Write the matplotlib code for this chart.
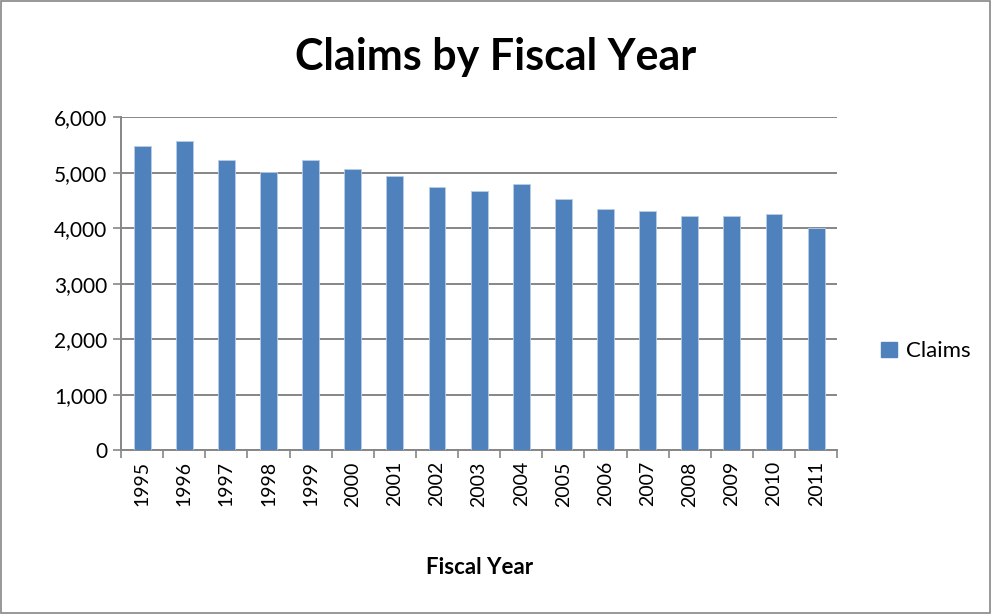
import matplotlib
matplotlib.use("Agg")
import matplotlib.pyplot as plt
import matplotlib.patches as mpatches
import matplotlib.ticker as mticker
import numpy as np

# Data
years = ["1995", "1996", "1997", "1998", "1999", "2000", "2001", "2002", "2003",
         "2004", "2005", "2006", "2007", "2008", "2009", "2010", "2011"]
claims = [5475, 5578, 5235, 5005, 5222, 5072, 4933, 4747, 4662,
          4789, 4518, 4338, 4314, 4224, 4212, 4265, 4012]

plt.rcParams["font.family"] = ["Lato", "DejaVu Sans"]

bar_color = "#4F81BD"
axis_gray = "#868686"

fig = plt.figure(figsize=(9.92, 6.14), dpi=100)
ax = fig.add_axes([0.122, 0.267, 0.722, 0.542])

x = np.arange(len(years))
ax.bar(x, claims, width=0.4, color=bar_color, edgecolor="#B9CDE5",
       linewidth=0.6, label="Claims", zorder=3)

ax.set_xlim(-0.5, len(years) - 0.5)
ax.set_ylim(0, 6000)
ax.yaxis.set_major_locator(mticker.MultipleLocator(1000))
ax.yaxis.set_major_formatter(mticker.FuncFormatter(lambda v, p: f"{int(v):,}"))
ax.grid(axis="y", color=axis_gray, linewidth=1.4, zorder=0)

# category ticks between bars, labels centered under bars
ax.set_xticks(np.arange(-0.5, len(years) + 0.5, 1))
ax.set_xticklabels([])
ax.set_xticks(x, minor=True)
ax.set_xticklabels(years, minor=True, rotation=90, fontsize=14)
ax.tick_params(axis="x", which="minor", length=0, pad=8)
ax.tick_params(axis="x", which="major", length=6, width=1.2, color=axis_gray, direction="out")
ax.tick_params(axis="y", length=6, width=1.2, color=axis_gray, labelsize=15, pad=4)

for side in ["top", "right"]:
    ax.spines[side].set_visible(False)
for side in ["left", "bottom"]:
    ax.spines[side].set_color(axis_gray)
    ax.spines[side].set_linewidth(1.4)

ax.set_xlabel("Fiscal Year", fontsize=16, fontweight="bold", labelpad=36)
fig.suptitle("Claims by Fiscal Year", fontsize=31, fontweight="bold", y=0.94)

leg = fig.legend(handles=[mpatches.Patch(color=bar_color, label="Claims")],
                 loc="center left", bbox_to_anchor=(0.868, 0.428), frameon=False,
                 fontsize=16, handlelength=0.7, handleheight=0.7, handletextpad=0.4)

# outer chart border
fig.patches.append(mpatches.Rectangle((0.001, 0.001), 0.997, 0.997, transform=fig.transFigure,
                                      fill=False, edgecolor=axis_gray, linewidth=1.2))

fig.savefig("out.png", dpi=100)
